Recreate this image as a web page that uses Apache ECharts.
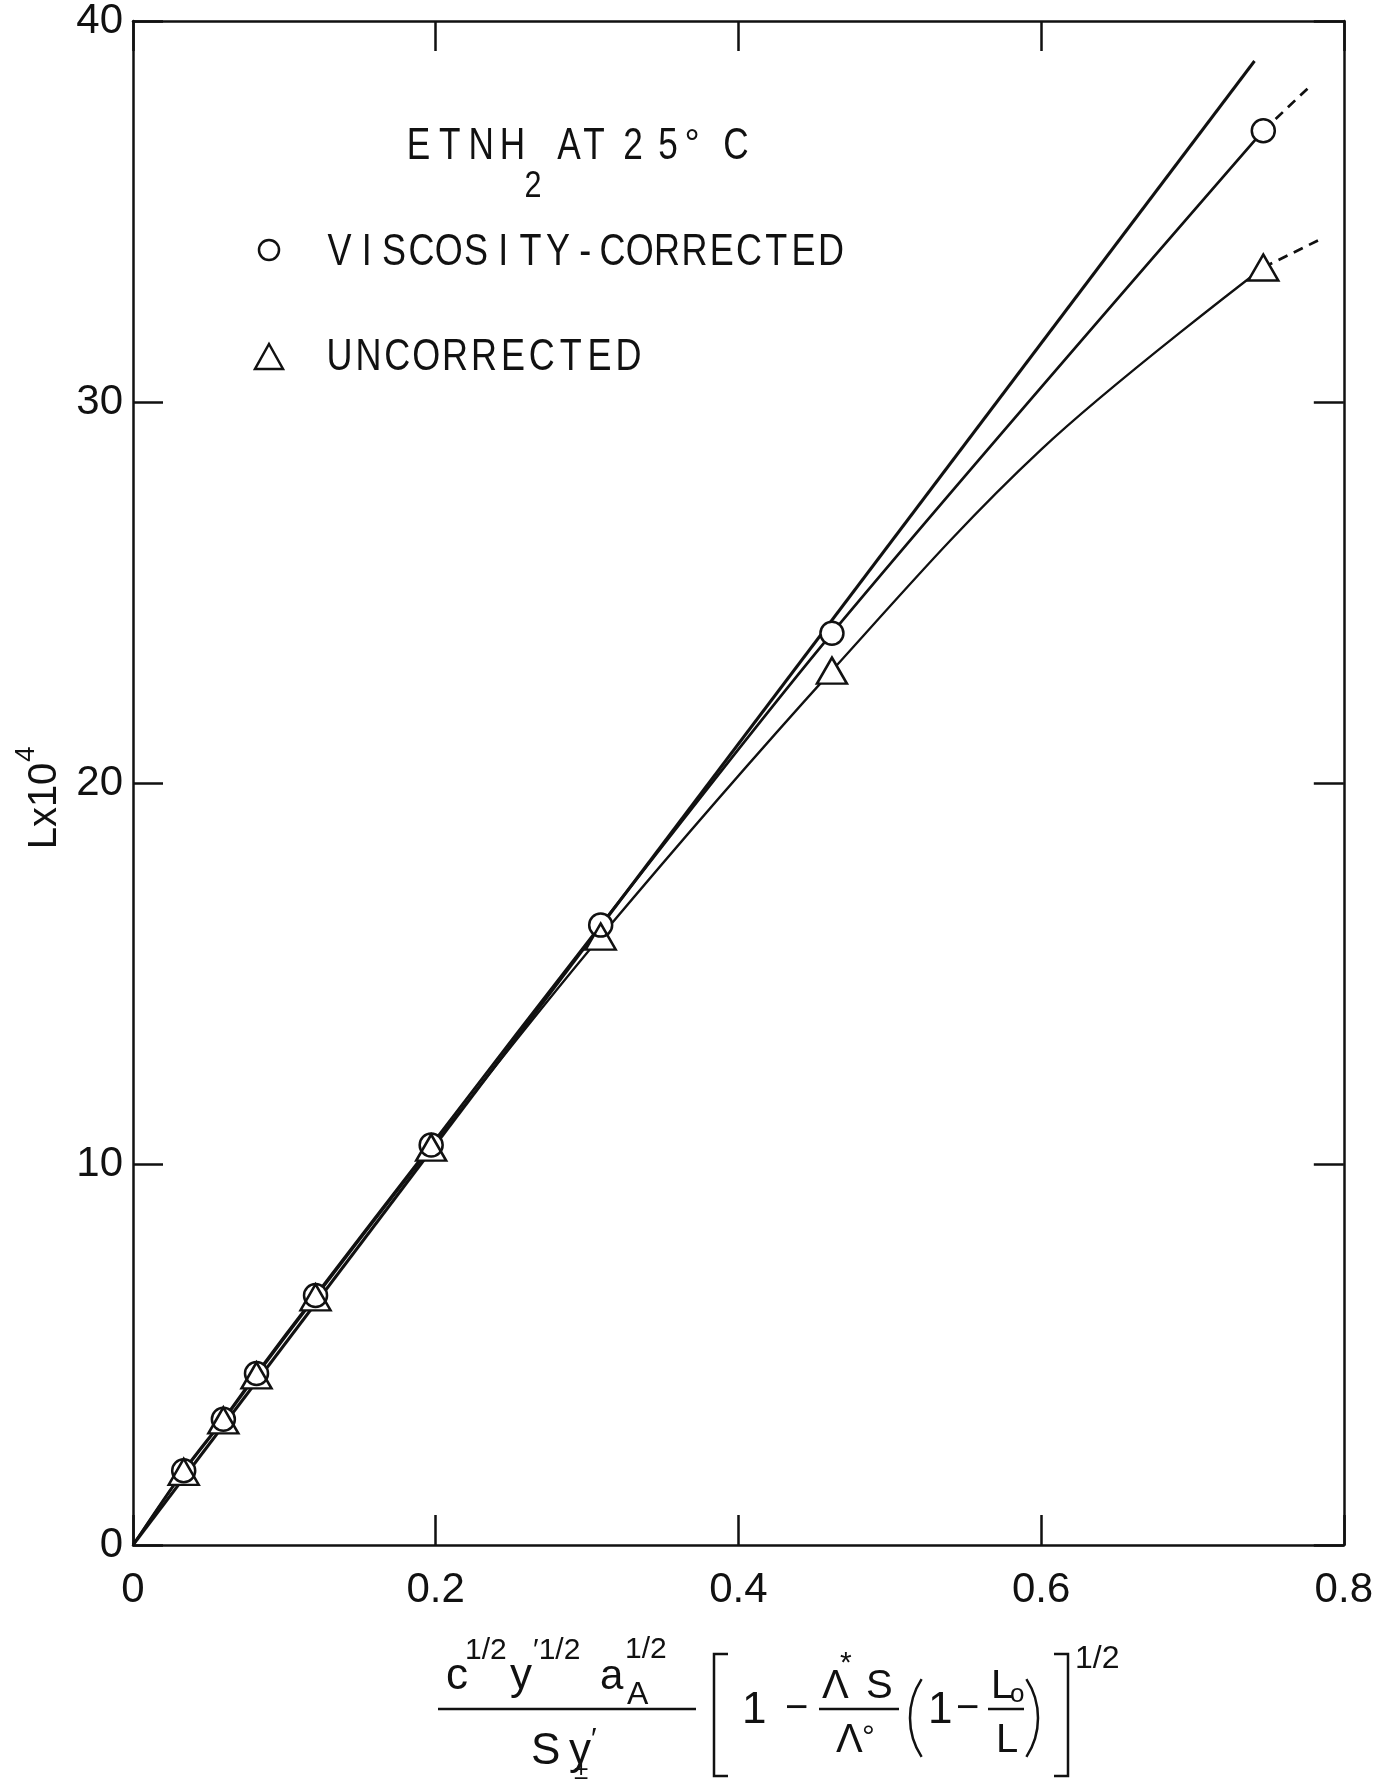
<!DOCTYPE html>
<html>
<head>
<meta charset="utf-8">
<title>Lx10^4 vs concentration function, EtNH2 at 25 °C</title>
<script src="https://cdn.jsdelivr.net/npm/echarts@6/dist/echarts.min.js"></script>
<style>
  html, body { margin: 0; padding: 0; background: #ffffff; }
  #chart { width: 1376px; height: 1785px; }
</style>
</head>
<body>
<div id="chart"></div>
<script>
// Axis ticks
const xTicks = [0, 0.2, 0.4, 0.6, 0.8];
const yTicks = [0, 10, 20, 30, 40];

// Measured points (abscissa shared by both data sets)
const xValues = [0.0335, 0.0597, 0.0816, 0.1206, 0.197, 0.309, 0.4618, 0.7468];
const viscosityCorrected = [1.95, 3.30, 4.50, 6.55, 10.50, 16.27, 23.93, 37.12];
const uncorrected = [1.92, 3.27, 4.45, 6.50, 10.43, 15.97, 22.95, 33.53];

// Limiting straight line through the origin
const limitingLine = [[0, 0], [0.741, 38.95]];
// Drawn course of the uncorrected curve between the two highest points
const uncorrectedBend = [[0.600, 28.75]];
// Dashed continuations beyond the last measured point
const viscosityTail = [[0.7468, 37.12], [0.778, 38.30]];
const uncorrectedTail = [[0.7468, 33.53], [0.786, 34.30]];

const INK = '#111111';
const FONT = "'Liberation Sans', Arial, 'DejaVu Sans', sans-serif";

const pairs = (xs, ys) => xs.map((x, i) => [x, ys[i]]);
const circlePts = pairs(xValues, viscosityCorrected);
const trianglePts = pairs(xValues, uncorrected);
const uncorrectedCurve = [[0, 0]].concat(trianglePts, uncorrectedBend)
  .sort((a, b) => a[0] - b[0]);

const chart = echarts.init(document.getElementById('chart'), null, { renderer: 'canvas' });

const frameAxis = (extra) => Object.assign({
  type: 'value',
  axisLine: { show: true, onZero: false, lineStyle: { color: INK, width: 2.5 } },
  axisTick: { show: true, inside: true, length: 30, lineStyle: { color: INK, width: 2.5 } },
  splitLine: { show: false },
  axisLabel: { show: false }
}, extra);

const tickLabel = (v) => (v === 0 ? '0' : (Number.isInteger(v) ? String(v) : v.toFixed(1)));

function txt(x, y, text, size, align, extra) {
  return Object.assign({
    type: 'text', x: x, y: y, z: 10,
    style: {
      text: text, fill: INK,
      font: size + 'px ' + FONT,
      textAlign: align || 'left', textVerticalAlign: 'middle'
    }
  }, extra || {});
}
// Stencil-style lettering: condensed glyphs set on an even pitch
function lettering(firstCenter, y, str, size, pitch) {
  return str.split('').map((ch, i) =>
    txt(firstCenter + i * pitch, y, ch, size, 'center', { scaleX: 0.8, originX: 0, originY: 0 })
  );
}
function seg(x1, y1, x2, y2, w) {
  return { type: 'line', z: 10, shape: { x1: x1, y1: y1, x2: x2, y2: y2 },
           style: { stroke: INK, lineWidth: w || 2.5 } };
}
function poly(points, w) {
  return { type: 'polyline', z: 10, shape: { points: points },
           style: { stroke: INK, fill: null, lineWidth: w || 2.5 } };
}
function paren(cx, cy, r, left) {
  const h = 0.58;
  return { type: 'arc', z: 10,
           shape: { cx: cx, cy: cy, r: r,
                    startAngle: left ? Math.PI - h : -h, endAngle: left ? Math.PI + h : h },
           style: { stroke: INK, fill: null, lineWidth: 2.5 } };
}

const graphics = [].concat(
  // heading: ETNH2 AT 25°C
  lettering(418.5, 147, 'ETNH', 44, 31.3),
  [txt(533, 187, '2', 36, 'center', { scaleX: 0.85, originX: 0, originY: 0 })],
  lettering(569, 147, 'AT', 44, 25),
  lettering(633, 147, '25', 44, 35),
  [txt(692, 146, '°', 38, 'center')],
  lettering(736, 147, 'C', 44, 0),

  // key
  [{ type: 'circle', z: 10, shape: { cx: 269, cy: 250, r: 10 },
     style: { stroke: INK, fill: '#fff', lineWidth: 2.5 } }],
  lettering(339.5, 253, 'VISCOSITY-CORRECTED', 45, 27.3),
  [{ type: 'polygon', z: 10, shape: { points: [[269, 344], [283, 369], [255, 369]] },
     style: { stroke: INK, fill: '#fff', lineWidth: 2.5 } }],
  lettering(339.5, 358, 'UNCORRECTED', 45, 28.9),

  // y-axis title, reading upward
  [{ type: 'group', x: 45, y: 806, rotation: Math.PI / 2, children: [
      txt(0, 0, 'Lx10', 40, 'center'),
      txt(44, -19, '4', 28, 'left')
  ] }],

  // x-axis title: fraction part
  [
    txt(446, 1677, 'c', 44),
    txt(465, 1651, '1/2', 30),
    txt(510, 1677, 'y', 44),
    txt(533, 1651, '\u20321/2', 30),
    txt(600, 1677, 'a', 42),
    txt(625, 1650, '1/2', 30),
    txt(627, 1695, 'A', 32),
    seg(438, 1709, 696, 1709),
    txt(531, 1752, 'S', 44),
    txt(569, 1752, 'y', 44),
    txt(591, 1740, '\u2032', 30),
    txt(574, 1772, '\u00b1', 26)
  ],

  // x-axis title: bracketed factor
  [
    poly([[728, 1654], [714, 1654], [714, 1776], [728, 1776]]),
    txt(742, 1711, '1', 44),
    txt(785, 1709, '\u2212', 40),
    txt(822, 1687, '\u039b', 40),
    txt(840, 1664, '*', 30),
    txt(866, 1687, 'S', 40),
    seg(819, 1709, 899, 1709),
    txt(836, 1741, '\u039b', 40),
    txt(862, 1738, '°', 32),
    paren(981, 1718, 71, true),
    txt(928, 1711, '1', 44),
    txt(956, 1709, '\u2212', 40),
    txt(991, 1687, 'L', 40),
    txt(1010, 1695, 'o', 26),
    seg(988, 1709, 1024, 1709),
    txt(996, 1741, 'L', 40),
    paren(967, 1718, 71, false),
    poly([[1054, 1654], [1068, 1654], [1068, 1776], [1054, 1776]]),
    txt(1075, 1659, '1/2', 32)
  ]
);

const markerLayer = (name, symbol, size, pts, fill, z) => ({
  name: name, type: 'scatter', data: pts, symbol: symbol, symbolSize: size, z: z,
  itemStyle: fill
    ? { color: '#ffffff', borderWidth: 0, opacity: 1 }
    : { color: 'rgba(0,0,0,0)', borderColor: INK, borderWidth: 2.5, opacity: 1 },
  emphasis: { disabled: true }, silent: true
});

const option = {
  animation: false,
  backgroundColor: '#ffffff',
  grid: { left: 133, right: 24, top: 17, bottom: 240, containLabel: false },
  xAxis: [
    frameAxis({
      position: 'bottom', min: xTicks[0], max: xTicks[xTicks.length - 1],
      interval: xTicks[1] - xTicks[0],
      axisLabel: { show: true, color: INK, fontFamily: FONT, fontSize: 42, margin: 24,
                   formatter: tickLabel }
    }),
    frameAxis({
      position: 'top', min: xTicks[0], max: xTicks[xTicks.length - 1],
      interval: xTicks[1] - xTicks[0]
    })
  ],
  yAxis: [
    frameAxis({
      position: 'left', min: yTicks[0], max: yTicks[yTicks.length - 1],
      interval: yTicks[1] - yTicks[0],
      axisLabel: { show: true, color: INK, fontFamily: FONT, fontSize: 42, margin: 10,
                   formatter: tickLabel }
    }),
    frameAxis({
      position: 'right', min: yTicks[0], max: yTicks[yTicks.length - 1],
      interval: yTicks[1] - yTicks[0]
    })
  ],
  series: [
    { name: 'limiting line', type: 'line', data: limitingLine, showSymbol: false, z: 2,
      lineStyle: { color: INK, width: 3 }, silent: true },
    { name: 'viscosity-corrected curve', type: 'line', data: [[0, 0]].concat(circlePts),
      smooth: 0.3, showSymbol: false, z: 2, lineStyle: { color: INK, width: 2.7 }, silent: true },
    { name: 'uncorrected curve', type: 'line', data: uncorrectedCurve,
      smooth: 0.35, showSymbol: false, z: 2, lineStyle: { color: INK, width: 2.3 }, silent: true },
    { name: 'viscosity-corrected tail', type: 'line', data: viscosityTail, showSymbol: false, z: 2,
      lineStyle: { color: INK, width: 2.7, type: [10, 7] }, silent: true },
    { name: 'uncorrected tail', type: 'line', data: uncorrectedTail, showSymbol: false, z: 2,
      lineStyle: { color: INK, width: 2.7, type: [10, 7] }, silent: true },
    markerLayer('uncorrected fill', 'triangle', [30, 26], trianglePts, true, 3),
    markerLayer('viscosity-corrected fill', 'circle', 23, circlePts, true, 3),
    markerLayer('Uncorrected', 'triangle', [30, 26], trianglePts, false, 4),
    markerLayer('Viscosity-corrected', 'circle', 23, circlePts, false, 4)
  ],
  graphic: graphics
};

chart.setOption(option);
</script>
</body>
</html>
